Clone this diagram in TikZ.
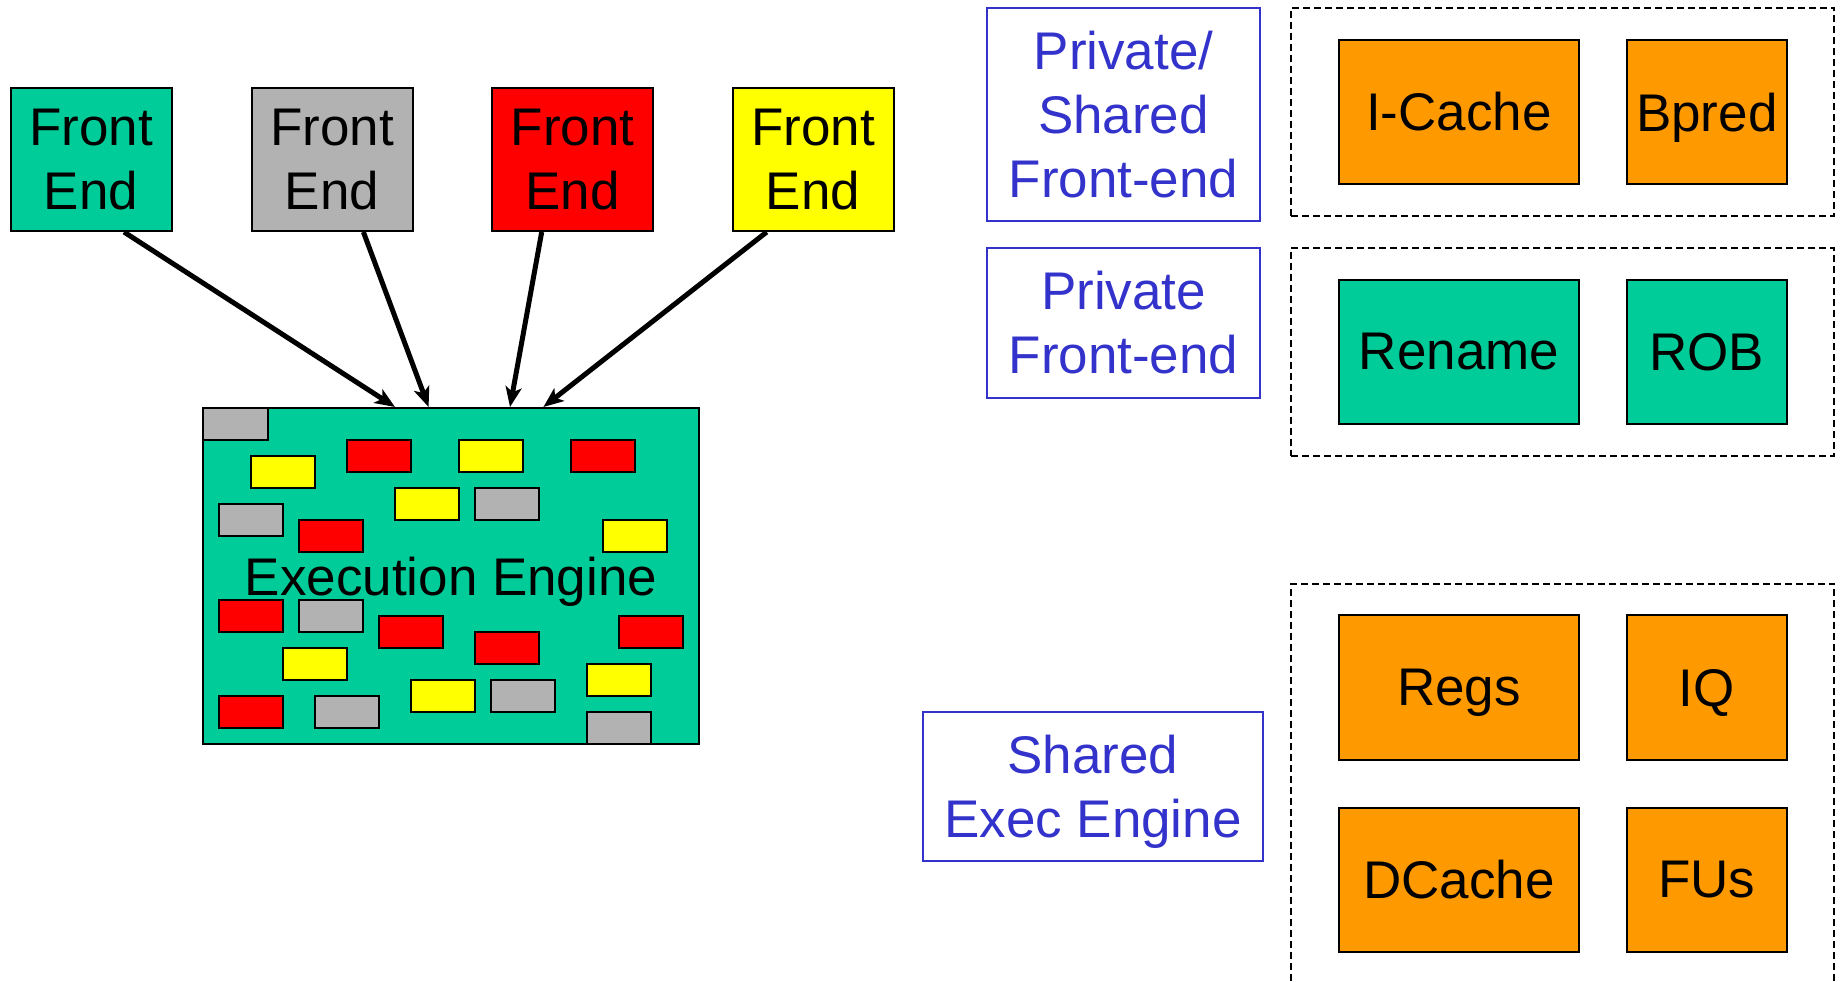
\documentclass[tikz,border=0pt]{standalone}
\usepackage{fontspec}
\setmainfont{Liberation Sans}
\usetikzlibrary{arrows.meta}
\definecolor{cgreen}{HTML}{00CC99}
\definecolor{cgray}{HTML}{B2B2B2}
\definecolor{cred}{HTML}{FF0000}
\definecolor{cyellow}{HTML}{FFFF00}
\definecolor{corange}{HTML}{FF9900}
\definecolor{cblue}{HTML}{3333CC}
\newcommand\nodepth[1]{\raisebox{0pt}[\height][0pt]{#1}}
\begin{document}
\begin{tikzpicture}[x=1pt,y=-1pt,
  bigfont/.style={font=\fontsize{53pt}{64.3pt}\selectfont},
  box/.style={draw=black, line width=2pt, inner sep=0pt, anchor=north west, bigfont, align=center},
  febox/.style={box, minimum width=161pt, minimum height=143pt},
  unit/.style={box, fill=corange, minimum height=144.5pt},
  wideunit/.style={unit, minimum width=240pt},
  narrowunit/.style={unit, minimum width=160.3pt},
  lbl/.style={draw=cblue, line width=2pt, text=cblue, inner sep=0pt, anchor=north west, bigfont, align=center},
  group/.style={draw=black, line width=2pt, dash pattern=on 7pt off 4pt, inner sep=0pt, anchor=north west, minimum width=543.3pt},
  brick/.style={draw=black, line width=2pt, inner sep=0pt, anchor=north west, minimum width=64.6pt, minimum height=32.4pt},
  arr/.style={line width=5pt, -{Stealth[length=20pt,width=16pt,inset=5pt]}}
]
\useasboundingbox (0,0) rectangle (1841,982);

% front ends
\node[febox, fill=cgreen]  (fe1) at (9.5,87)   {Front\\End};
\node[febox, fill=cgray]   (fe2) at (250.5,87) {Front\\End};
\node[febox, fill=cred]    (fe3) at (491,87)   {Front\\End};
\node[febox, fill=cyellow] (fe4) at (731.5,87) {Front\\End};

% execution engine
\node[box, fill=cgreen, minimum width=496pt, minimum height=336pt] (ee) at (202,407) {\nodepth{Execution Engine}};

\foreach \bx/\by/\bc [count=\i] in {
  202/407/cgray, 249.7/454.7/cyellow, 345.7/438.7/cred, 457.7/438.7/cyellow,
  569.7/438.7/cred, 217.7/502.7/cgray, 393.7/486.7/cyellow, 473.7/486.7/cgray,
  297.7/518.7/cred, 601.7/518.7/cyellow, 217.7/598.7/cred, 297.7/598.7/cgray,
  377.7/614.7/cred, 473.7/630.7/cred, 617.7/614.7/cred, 281.7/646.7/cyellow,
  585.7/662.7/cyellow, 217.7/694.7/cred, 313.7/694.7/cgray, 409.7/678.7/cyellow,
  489.7/678.7/cgray, 585.7/710.7/cgray}
  {\node[brick, fill=\bc] (b\i) at (\bx,\by) {};}

% arrows
\draw[arr] ([xshift=33pt]fe1.south)    -- ([xshift=-56pt]ee.north);
\draw[arr] ([xshift=31.4pt]fe2.south)  -- ([xshift=-22.4pt]ee.north);
\draw[arr] ([xshift=-30.8pt]fe3.south) -- ([xshift=59pt]ee.north);
\draw[arr] ([xshift=-46.3pt]fe4.south) -- ([xshift=92.4pt]ee.north);

% labels
\node[lbl, minimum width=273pt, minimum height=213pt]   (la) at (986,7)       {Private/\\Shared\\Front-end};
\node[lbl, minimum width=273pt, minimum height=149.5pt] (lb) at (986,247)     {Private\\Front-end};
\node[lbl, minimum width=340.5pt, minimum height=149.5pt] (lc) at (921.7,710.7) {Shared\\\nodepth{Exec Engine}};

% groups
\node[group, minimum height=208.3pt] (g1) at (1290,6.7) {};
\node[group, minimum height=207.7pt] (g2) at (1290,247) {};
\node[group, minimum height=415pt]   (g3) at (1290,582.7) {};

% units
\node[wideunit]               (icache) at (1338,38.7)    {I-Cache};
\node[narrowunit]             (bpred)  at (1625.7,38.7)  {\nodepth{Bpred}};
\node[wideunit, fill=cgreen]  (rename) at (1338,278.7)   {Rename};
\node[narrowunit, fill=cgreen](rob)    at (1625.7,278.7) {ROB};
\node[wideunit]               (regs)   at (1338,614.3)   {\nodepth{Regs}};
\node[narrowunit]             (iq)     at (1625.7,614.3) {\nodepth{IQ}};
\node[wideunit]               (dcache) at (1338,806.7)   {DCache};
\node[narrowunit]             (fus)    at (1625.7,806.7) {FUs};
\end{tikzpicture}
\end{document}
